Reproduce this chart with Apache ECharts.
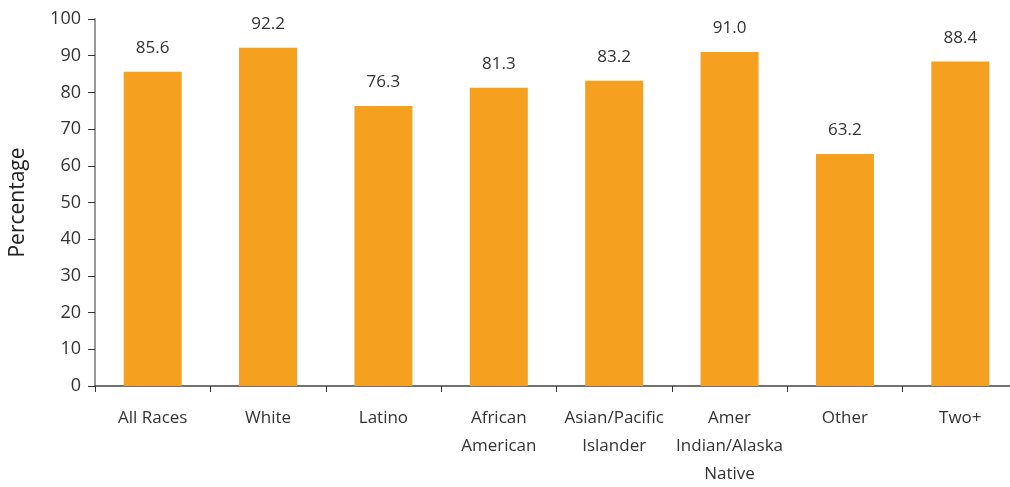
<!DOCTYPE html>
<html><head><meta charset="utf-8">
<script src="https://cdn.jsdelivr.net/npm/echarts@6/dist/echarts.min.js"></script>
<style>html,body{margin:0;padding:0;background:#fff}#c{width:1010px;height:487px}</style>
</head><body><div id="c"></div>
<script>
var categories = ["All Races","White","Latino","African\nAmerican","Asian/Pacific\nIslander","Amer\nIndian/Alaska\nNative","Other","Two+"];
var values = [85.6, 92.2, 76.3, 81.3, 83.2, 91.0, 63.2, 88.4];
var yTicks = {min: 0, max: 100, interval: 10};
var yName = "Percentage";

var font = "Open Sans";
var chart = echarts.init(document.getElementById('c'), null, {renderer: 'canvas'});
chart.setOption({
  animation: false,
  grid: {left: 95, right: -8, top: 19, bottom: 101, containLabel: false, outerBoundsMode: 'none'},
  xAxis: {
    type: 'category', data: categories,
    axisLine: {lineStyle: {color: '#444', width: 1.5}},
    axisTick: {show: true, length: 6, lineStyle: {color: '#333'}},
    axisLabel: {color: '#333', fontFamily: font, fontSize: 17, lineHeight: 28, margin: 18, interval: 0}
  },
  yAxis: {
    type: 'value', min: yTicks.min, max: yTicks.max, interval: yTicks.interval,
    name: yName, nameLocation: 'middle', nameGap: 66, nameRotate: 90,
    nameTextStyle: {color: '#222', fontFamily: font, fontSize: 21},
    splitLine: {show: false},
    axisLine: {show: true, lineStyle: {color: '#999', width: 2}},
    axisTick: {show: true, length: 7, lineStyle: {color: '#333'}},
    axisLabel: {color: '#333', fontFamily: font, fontSize: 18, margin: 14}
  },
  series: [{
    type: 'bar', data: values, barWidth: 58,
    itemStyle: {color: '#F5A11F'},
    label: {show: true, position: 'top', distance: 15, color: '#333', fontFamily: font, fontSize: 17,
      formatter: function(p){ return p.value.toFixed(1); }}
  }]
});
</script></body></html>
